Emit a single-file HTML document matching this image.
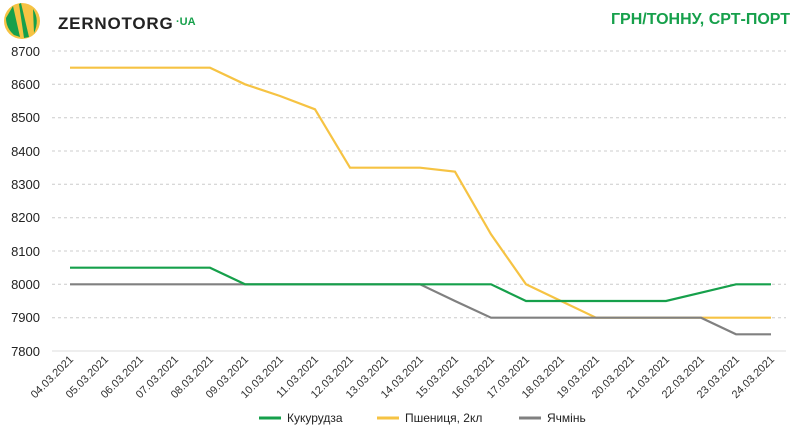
<!DOCTYPE html>
<html><head><meta charset="utf-8"><style>body{margin:0;background:#fff}svg{display:block;font-family:"Liberation Sans",sans-serif}</style></head><body>
<svg width="800" height="432" viewBox="0 0 800 432">
<circle cx="22" cy="21" r="18" fill="#f6c343"/>
<path d="M13,6 L20,37 L14,35 Q6,28 6,18Z" fill="#16a04b"/>
<path d="M21,3 L29,37 L24,38 L19,4Z" fill="#16a04b"/>
<path d="M33,9 Q40,20 34,33 Z" fill="#16a04b"/>
<text x="58" y="29" font-size="17" font-weight="bold" letter-spacing="0.8" fill="#222">ZERNOTORG</text>
<text x="176" y="25" font-size="11" font-weight="bold" fill="#16a04b">·UA</text>
<text x="790" y="24" font-size="16" font-weight="bold" fill="#16a04b" text-anchor="end">ГРН/ТОННУ, СРТ-ПОРТ</text>
<g stroke="#ccc" stroke-dasharray="3,3" stroke-width="1">
<line x1="52" x2="786" y1="51" y2="51"/><line x1="52" x2="786" y1="84.3" y2="84.3"/><line x1="52" x2="786" y1="117.7" y2="117.7"/><line x1="52" x2="786" y1="151" y2="151"/><line x1="52" x2="786" y1="184.3" y2="184.3"/><line x1="52" x2="786" y1="217.7" y2="217.7"/><line x1="52" x2="786" y1="251" y2="251"/><line x1="52" x2="786" y1="284.3" y2="284.3"/><line x1="52" x2="786" y1="317.7" y2="317.7"/>
</g>
<line x1="52" x2="786" y1="351" y2="351" stroke="#ddd"/>
<g font-size="13" fill="#222" text-anchor="end">
<text x="40" y="56">8700</text><text x="40" y="89">8600</text><text x="40" y="122">8500</text><text x="40" y="156">8400</text><text x="40" y="189">8300</text><text x="40" y="222">8200</text><text x="40" y="256">8100</text><text x="40" y="289">8000</text><text x="40" y="322">7900</text><text x="40" y="356">7800</text>
</g>
<g font-size="11" fill="#333" text-anchor="end">
<text x="74" y="360" transform="rotate(-45 74 360)">04.03.2021</text>
<text x="109" y="360" transform="rotate(-45 109 360)">05.03.2021</text>
<text x="144" y="360" transform="rotate(-45 144 360)">06.03.2021</text>
<text x="179" y="360" transform="rotate(-45 179 360)">07.03.2021</text>
<text x="214" y="360" transform="rotate(-45 214 360)">08.03.2021</text>
<text x="249" y="360" transform="rotate(-45 249 360)">09.03.2021</text>
<text x="284" y="360" transform="rotate(-45 284 360)">10.03.2021</text>
<text x="319" y="360" transform="rotate(-45 319 360)">11.03.2021</text>
<text x="354" y="360" transform="rotate(-45 354 360)">12.03.2021</text>
<text x="389" y="360" transform="rotate(-45 389 360)">13.03.2021</text>
<text x="424" y="360" transform="rotate(-45 424 360)">14.03.2021</text>
<text x="459" y="360" transform="rotate(-45 459 360)">15.03.2021</text>
<text x="495" y="360" transform="rotate(-45 495 360)">16.03.2021</text>
<text x="530" y="360" transform="rotate(-45 530 360)">17.03.2021</text>
<text x="565" y="360" transform="rotate(-45 565 360)">18.03.2021</text>
<text x="600" y="360" transform="rotate(-45 600 360)">19.03.2021</text>
<text x="635" y="360" transform="rotate(-45 635 360)">20.03.2021</text>
<text x="670" y="360" transform="rotate(-45 670 360)">21.03.2021</text>
<text x="705" y="360" transform="rotate(-45 705 360)">22.03.2021</text>
<text x="740" y="360" transform="rotate(-45 740 360)">23.03.2021</text>
<text x="775" y="360" transform="rotate(-45 775 360)">24.03.2021</text>
</g>
<polyline fill="none" stroke="#f6c343" stroke-width="2.2" points="70,67.7 105,67.7 140,67.7 175,67.7 210,67.7 245,84.3 280,96 315,109.3 350,167.7 385,167.7 420,167.7 455,171.7 491,234.3 526,284.3 561,301 596,317.7 631,317.7 666,317.7 701,317.7 736,317.7 771,317.7"/>
<polyline fill="none" stroke="#808080" stroke-width="2.2" points="70,284.3 105,284.3 140,284.3 175,284.3 210,284.3 245,284.3 280,284.3 315,284.3 350,284.3 385,284.3 420,284.3 455,301 491,317.7 526,317.7 561,317.7 596,317.7 631,317.7 666,317.7 701,317.7 736,334.3 771,334.3"/>
<polyline fill="none" stroke="#16a04b" stroke-width="2.2" points="70,267.7 105,267.7 140,267.7 175,267.7 210,267.7 245,284.3 280,284.3 315,284.3 350,284.3 385,284.3 420,284.3 455,284.3 491,284.3 526,301 561,301 596,301 631,301 666,301 701,292.7 736,284.3 771,284.3"/>
<g font-size="12" fill="#222">
<line x1="259" x2="281" y1="418" y2="418" stroke="#16a04b" stroke-width="3"/><text x="287" y="422">Кукурудза</text>
<line x1="377" x2="399" y1="418" y2="418" stroke="#f6c343" stroke-width="3"/><text x="405" y="422">Пшениця, 2кл</text>
<line x1="519" x2="541" y1="418" y2="418" stroke="#808080" stroke-width="3"/><text x="547" y="422">Ячмінь</text>
</g>
</svg>
</body></html>
